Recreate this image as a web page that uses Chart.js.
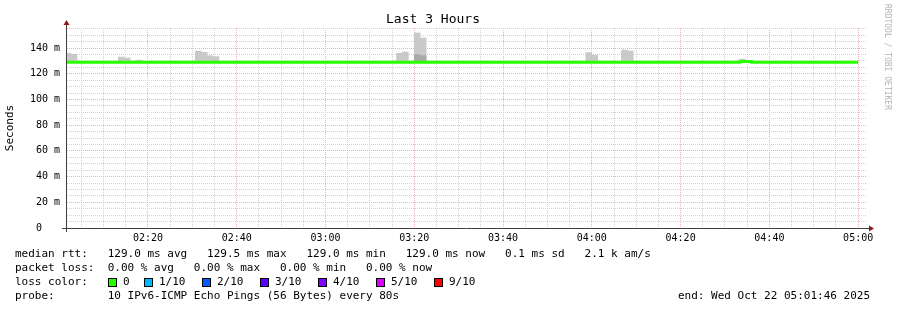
<!DOCTYPE html>
<html>
<head>
<meta charset="utf-8">
<script src="https://cdn.jsdelivr.net/npm/chart.js@4"></script>
<style>
html,body{margin:0;padding:0;background:#fff;}
#wrap{position:relative;width:897px;height:310px;overflow:hidden;background:#fff;}
#c{position:absolute;left:0;top:0;}
.t{position:absolute;font-family:'DejaVu Sans Mono',monospace;font-size:11px;line-height:14px;white-space:pre;color:#000;}
.box{position:absolute;width:7px;height:7px;border:1px solid #000;}
#rrd{position:absolute;left:882px;top:4px;font-family:'DejaVu Sans Mono',monospace;font-size:8px;line-height:10px;color:#b4b4b4;writing-mode:vertical-rl;white-space:pre;}
</style>
</head>
<body>
<div id="wrap">
<canvas id="c" width="897" height="310"></canvas>
<div id="rrd">RRDTOOL / TOBI OETIKER</div>
<div class="t" style="left:15px;top:247px">median rtt:   129.0 ms avg   129.5 ms max   129.0 ms min   129.0 ms now   0.1 ms sd   2.1 k am/s</div>
<div class="t" style="left:15px;top:261px">packet loss:  0.00 % avg   0.00 % max   0.00 % min   0.00 % now</div>
<div class="t" style="left:15px;top:275px">loss color:</div>
<div id="lossrow"></div>
<div class="t" style="left:15px;top:289px">probe:        10 IPv6-ICMP Echo Pings (56 Bytes) every 80s</div>
<div class="t" style="left:678px;top:289px">end: Wed Oct 22 05:01:46 2025</div>
</div>
<script>
// ---- data ----
const END_TIME = "05:01:46";
const RANGE_MINUTES = 180;
const STEP_SECONDS = 80;
const MEDIAN_FIRST_STEP = "02:01:20";
// median rtt (ms) per 80 s step, from 02:01:20 to 05:00:00
const medianRtt = [
  129.0,129.0,129.0,129.0,129.0,129.0,129.0,129.0,129.0,129.0,
  129.0,129.0,129.0,129.0,129.0,129.0,129.0,129.0,129.0,129.0,
  129.0,129.0,129.0,129.0,129.0,129.0,129.0,129.0,129.0,129.0,
  129.0,129.0,129.0,129.0,129.0,129.0,129.0,129.0,129.0,129.0,
  129.0,129.0,129.0,129.0,129.0,129.0,129.0,129.0,129.0,129.0,
  129.0,129.0,129.0,129.0,129.0,129.0,129.0,129.0,129.0,129.0,
  129.0,129.0,129.0,129.0,129.0,129.0,129.0,129.0,129.0,129.0,
  129.0,129.0,129.0,129.0,129.0,129.0,129.0,129.0,129.0,129.0,
  129.0,129.0,129.0,129.0,129.0,129.0,129.0,129.0,129.0,129.0,
  129.0,129.0,129.0,129.0,129.0,129.0,129.0,129.0,129.0,129.0,
  129.0,129.0,129.0,129.0,129.0,129.0,129.0,129.0,129.0,129.0,
  129.0,129.0,129.0,129.0,129.5,129.5,129.0,129.0,129.0,129.0,
  129.0,129.0,129.0,129.0,129.0,129.0,129.0,129.0,129.0,129.0,
  129.0,129.0,129.0,129.0
];
// smoke (ping spread) – step start times and low/high (ms)
const smokeSteps = ["02:01:20","02:02:40","02:13:20","02:14:40","02:17:20",
  "02:30:40","02:32:00","02:33:20","02:34:40",
  "03:16:00","03:17:20","03:20:00","03:21:20",
  "03:58:40","04:00:00","04:06:40","04:08:00","04:33:20"];
const smokeLow  = [128.8,128.8,128.8,128.8,128.8,
  128.8,128.8,128.8,128.8,
  128.8,128.8,128.8,128.8,
  128.8,128.8,128.8,128.8,128.8];
const smokeHigh = [135.9,135.1,133.0,132.2,130.6,
  137.6,136.7,134.0,133.3,
  135.9,136.9,151.7,147.8,
  136.4,134.5,138.4,137.6,131.2];
const denseSteps = ["03:20:00","03:21:20"];
const denseLow  = [128.8,128.8];
const denseHigh = [134.8,134.0];
const xTickLabels = ["02:20","02:40","03:00","03:20","03:40","04:00","04:20","04:40","05:00"];
const yTickValues = [0,20,40,60,80,100,120,140];
const yTickLabels = ["0   ","20 m","40 m","60 m","80 m","100 m","120 m","140 m"];
const lossLabels = ["0","1/10","2/10","3/10","4/10","5/10","9/10"];
const lossColors = ["#26ff00","#00b8ff","#0059ff","#5e00ff","#7e00ff","#dd00ff","#ff0000"];

// ---- helpers ----
const MONO = "'DejaVu Sans Mono', monospace";
function toMin(s){const p=s.split(':').map(Number);return p[0]*60+p[1]+(p[2]||0)/60;}
const xMax = toMin(END_TIME), xMin = xMax - RANGE_MINUTES;
const stepMin = STEP_SECONDS/60;
const firstStep = toMin(MEDIAN_FIRST_STEP);
const Y_MAX = 155.56;

const medianPts = medianRtt.map((v,i)=>({x:firstStep+i*stepMin, y:v}));
medianPts.push({x:firstStep+medianRtt.length*stepMin, y:medianRtt[medianRtt.length-1]});
const smokeData = smokeSteps.map((s,i)=>({x:toMin(s)+stepMin/2, y:[smokeLow[i],smokeHigh[i]]}));
const denseData = denseSteps.map((s,i)=>({x:toMin(s)+stepMin/2, y:[denseLow[i],denseHigh[i]]}));
const xMajor = xTickLabels.map(toMin);

// legend loss color row
(function(){
  const row=document.getElementById('lossrow');
  const boxX=[108,144,202,260,318,376,434];
  lossLabels.forEach((l,i)=>{
    const b=document.createElement('div');b.className='box';
    b.style.left=boxX[i]+'px';b.style.top='278px';b.style.background=lossColors[i];row.appendChild(b);
    const t=document.createElement('div');t.className='t';t.textContent=l;
    t.style.left=(boxX[i]+15)+'px';t.style.top='275px';row.appendChild(t);
  });
})();

const MAJOR='#eeb0b0', MINOR='#d4d4d4';

const axisPlugin = {
  id:'rrdAxes',
  afterDatasetsDraw(chart){
    const {ctx, chartArea:a} = chart;
    ctx.save();
    ctx.strokeStyle='#404040'; ctx.lineWidth=1;
    ctx.beginPath();
    ctx.moveTo(a.left-5, a.bottom+0.5); ctx.lineTo(a.right+5, a.bottom+0.5);
    ctx.moveTo(a.left-0.5, a.bottom+4); ctx.lineTo(a.left-0.5, a.top-4);
    ctx.stroke();
    ctx.fillStyle='#8b1a1a';
    ctx.beginPath(); ctx.moveTo(a.right+8, a.bottom+0.5); ctx.lineTo(a.right+3, a.bottom-2.5); ctx.lineTo(a.right+3, a.bottom+3.5); ctx.closePath(); ctx.fill();
    ctx.beginPath(); ctx.moveTo(a.left-0.5, a.top-8); ctx.lineTo(a.left-3.5, a.top-3); ctx.lineTo(a.left+2.5, a.top-3); ctx.closePath(); ctx.fill();
    ctx.restore();
  }
};

new Chart(document.getElementById('c'), {
  type:'bar',
  data:{datasets:[
    {type:'line', label:'median rtt', data:medianPts, stepped:'before', borderColor:'#26ff00', borderWidth:3,
     pointRadius:0, fill:false, order:0, clip:0, borderCapStyle:'butt'},
    {type:'bar', label:'smoke dense', data:denseData, backgroundColor:'#a9a9a9', borderWidth:0,
     categoryPercentage:1, barPercentage:1, grouped:false, order:1, clip:0},
    {type:'bar', label:'smoke', data:smokeData, backgroundColor:'#c9c9c9', borderWidth:0,
     categoryPercentage:1, barPercentage:1, grouped:false, order:2, clip:0}
  ]},
  options:{
    responsive:false, animation:false, devicePixelRatio:1,
    layout:{padding:{left:0,right:31,top:0,bottom:62}},
    plugins:{
      legend:{display:false}, tooltip:{enabled:false},
      title:{display:true, text:'Last 3 Hours', color:'#000',
        font:{family:MONO,size:13,weight:'normal',lineHeight:1.2}, padding:{top:12,bottom:0.4}}
    },
    scales:{
      x:{type:'linear', min:xMin, max:xMax, offset:false,
        afterBuildTicks(s){const t=[];for(let m=Math.ceil(xMin/5)*5;m<=xMax+1e-9;m+=5)t.push({value:m});s.ticks=t;},
        afterFit(s){s.height=20;},
        grid:{offset:false, drawTicks:false, lineWidth:1, borderDash:[1,1],
          color:c=>(c.tick && xMajor.some(v=>Math.abs(v-c.tick.value)<1e-6))?MAJOR:MINOR},
        border:{display:false, dash:[1,1]},
        ticks:{autoSkip:false, maxRotation:0, minRotation:0, padding:4, color:'#000', font:{family:MONO,size:10},
          callback(v){const i=xMajor.findIndex(m=>Math.abs(m-v)<1e-6);return i>=0?xTickLabels[i]:'';}}
      },
      y:{type:'linear', min:0, max:Y_MAX,
        afterBuildTicks(s){const t=[];for(let v=0;v<=Y_MAX;v+=5)t.push({value:v});s.ticks=t;},
        afterFit(s){s.width=67;},
        title:{display:true, text:'Seconds', color:'#000', font:{family:MONO,size:11}, padding:{top:4,bottom:0}},
        grid:{drawTicks:false, lineWidth:1, borderDash:[1,1],
          color:c=>(c.tick && c.tick.value%20===0)?MAJOR:MINOR},
        border:{display:false, dash:[1,1]},
        ticks:{autoSkip:false, padding:7, color:'#000', font:{family:MONO,size:10},
          callback(v){const i=yTickValues.indexOf(v);return i>=0?yTickLabels[i]:'';}}
      }
    }
  },
  plugins:[axisPlugin]
});
</script>
</body>
</html>
